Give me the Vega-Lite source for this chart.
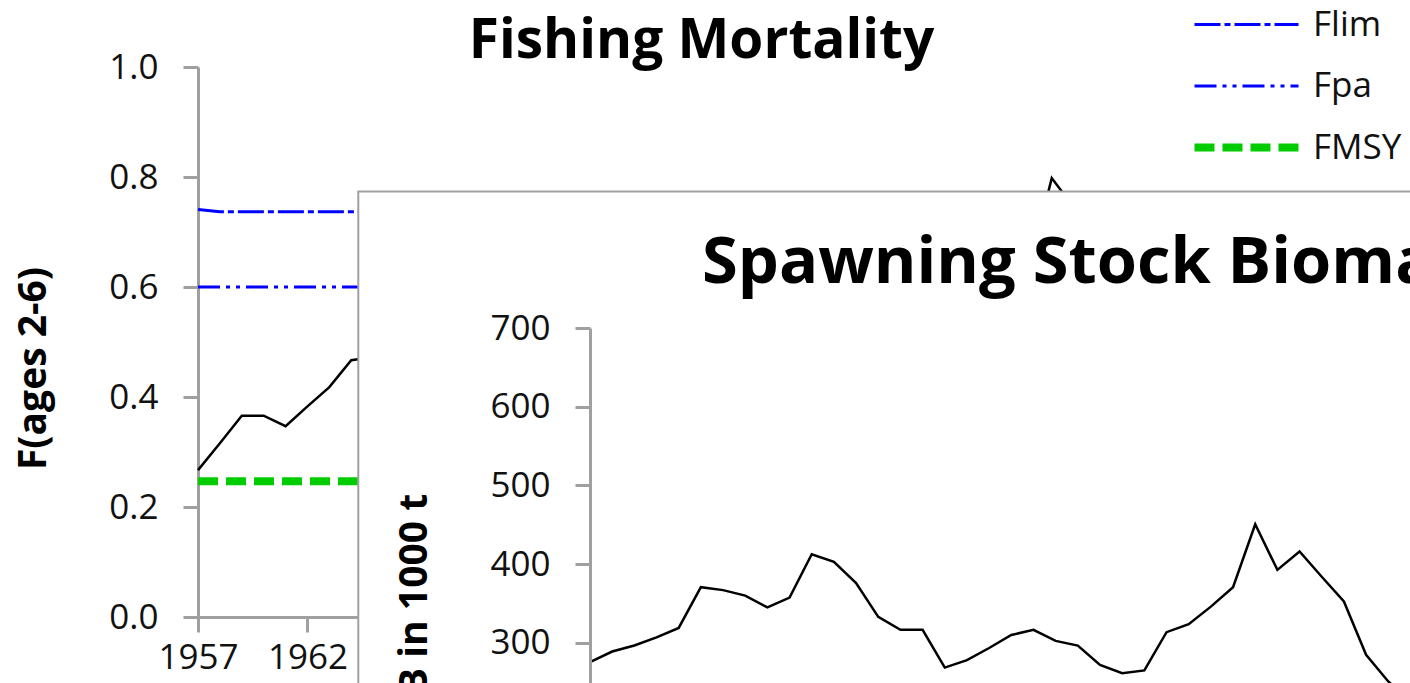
{
"$schema":"https://vega.github.io/schema/vega-lite/v6.json",
"width":1007,"height":550,
"autosize":{"type":"none"},
"padding":{"left":198,"top":67,"right":205,"bottom":66},
"background":"white",
"title":{"text":"Fishing Mortality","font":"Open Sans","fontSize":55,"fontWeight":"bold","color":"#000","anchor":"middle","frame":"group","baseline":"alphabetic","offset":7,"dy":113},
"config":{
 "view":{"stroke":null},
 "axis":{"grid":false,"domainColor":"#a0a0a0","domainWidth":3,"tickColor":"#a0a0a0","tickWidth":3,"tickSize":15,"labelFont":"Open Sans","labelFontSize":35,"labelColor":"#111","titleFont":"Open Sans","titleFontSize":39,"titleFontWeight":"bold","titleColor":"#000"},
 "legend":{"orient":"none","legendX":1031,"legendY":-60,"title":null,"padding":0,"symbolType":"M-4,0H4","symbolSize":676,"labelFont":"Open Sans","labelFontSize":35,"labelColor":"#111","labelOffset":49,"rowPadding":25.5}
},
"datasets":{
 "f":[
  {"year":1957,"F":0.267},{"year":1958,"F":0.316},{"year":1959,"F":0.366},{"year":1960,"F":0.366},
  {"year":1961,"F":0.347},{"year":1962,"F":0.383},{"year":1963,"F":0.418},{"year":1964,"F":0.467},
  {"year":1995,"F":0.639},{"year":1996,"F":0.798},{"year":1997,"F":0.745}
 ],
 "refs":[
  {"series":"Flim","year":1957,"value":0.741},{"series":"Flim","year":1958,"value":0.737},{"series":"Flim","year":2003,"value":0.737},
  {"series":"Fpa","year":1957,"value":0.6},{"series":"Fpa","year":2003,"value":0.6},
  {"series":"FMSY","year":1957,"value":0.247},{"series":"FMSY","year":2003,"value":0.247}
 ],
 "ssb":[
  {"year":1957,"SSB":275.5},{"year":1958,"SSB":289},{"year":1959,"SSB":296.6},{"year":1960,"SSB":307},
  {"year":1961,"SSB":319},{"year":1962,"SSB":370.7},{"year":1963,"SSB":367},{"year":1964,"SSB":360},
  {"year":1965,"SSB":345},{"year":1966,"SSB":357.5},{"year":1967,"SSB":412.6},{"year":1968,"SSB":403},
  {"year":1969,"SSB":376},{"year":1970,"SSB":333},{"year":1971,"SSB":316.5},{"year":1972,"SSB":316.5},
  {"year":1973,"SSB":268.6},{"year":1974,"SSB":278},{"year":1975,"SSB":293.5},{"year":1976,"SSB":310},
  {"year":1977,"SSB":316.5},{"year":1978,"SSB":302.5},{"year":1979,"SSB":296.6},{"year":1980,"SSB":272},
  {"year":1981,"SSB":261.5},{"year":1982,"SSB":265},{"year":1983,"SSB":313.6},{"year":1984,"SSB":323.7},
  {"year":1985,"SSB":346},{"year":1986,"SSB":370.7},{"year":1987,"SSB":450.7},{"year":1988,"SSB":392.7},
  {"year":1989,"SSB":416},{"year":1990,"SSB":384},{"year":1991,"SSB":352.5},{"year":1992,"SSB":284.8},
  {"year":1993,"SSB":251},{"year":1994,"SSB":225}
 ]
},
"layer":[
 {"layer":[
  {"data":{"name":"f"},"mark":{"type":"line","color":"#000","strokeWidth":2.5},
   "encoding":{
    "x":{"field":"year","type":"quantitative","scale":{"domain":[1957,2003],"nice":false,"zero":false},
         "axis":{"orient":"bottom","values":[1957,1962,1967,1972,1977,1982,1987,1992,1997,2002],"format":"d","labelPadding":8,"labelFlush":false,"title":null}},
    "y":{"field":"F","type":"quantitative","scale":{"domain":[0,1],"nice":false,"zero":true},
         "axis":{"orient":"left","values":[0,0.2,0.4,0.6,0.8,1],"format":".1f","labelPadding":25,"title":"F(ages 2-6)","titlePadding":55,"titleY":301}}}},
  {"data":{"name":"refs"},"mark":{"type":"line"},
   "encoding":{
    "x":{"field":"year","type":"quantitative"},
    "y":{"field":"value","type":"quantitative"},
    "color":{"field":"series","type":"nominal","sort":["Flim","Fpa","FMSY"],"scale":{"domain":["Flim","Fpa","FMSY"],"range":["#0000ff","#0000ff","#00cc00"]},
             "legend":{"encode":{"symbols":{"update":{"strokeWidth":{"signal":"datum.value === 'FMSY' ? 8 : 3"}}}}}},
    "strokeDash":{"field":"series","type":"nominal","sort":["Flim","Fpa","FMSY"],"scale":{"domain":["Flim","Fpa","FMSY"],"range":[[26,4,6,4],[22,6,4,6,4,6],[20,8]]},
             "legend":{"encode":{"symbols":{"update":{"strokeWidth":{"signal":"datum.value === 'FMSY' ? 8 : 3"}}}}}},
    "strokeWidth":{"condition":{"test":"datum.series === 'FMSY'","value":8},"value":3}}}
 ]},
 {"layer":[
  {"data":{"values":[{}]},"mark":{"type":"rect","fill":"white","stroke":"#a0a0a0","strokeWidth":2},
   "encoding":{
    "x":{"datum":1946.55,"type":"quantitative"},"x2":{"datum":2030},
    "y":{"datum":873.3,"type":"quantitative"},"y2":{"datum":-300}}},
  {"data":{"name":"ssb"},"mark":{"type":"line","color":"#000","strokeWidth":2.5},
   "encoding":{
    "x":{"field":"year","type":"quantitative","scale":{"domain":[1957,2003],"range":[392,1412],"nice":false,"zero":false},
         "axis":{"orient":"top","labels":false,"ticks":false,"domain":false,"zindex":1,"offset":-215,"title":"Spawning Stock Biomass","titleFontSize":65,"titlePadding":0,"titleBaseline":"alphabetic"}},
    "y":{"field":"SSB","type":"quantitative","scale":{"domain":[0,700],"range":[812,261],"nice":false,"zero":true},
         "axis":{"orient":"left","offset":-392,"zindex":1,"values":[0,100,200,300,400,500,600,700],"labelPadding":25,"title":"SSB in 1000 t","titlePadding":55,"titleY":548}}}}
 ]}
],
"resolve":{"scale":{"x":"independent","y":"independent"},"axis":{"x":"independent","y":"independent"}}
}
